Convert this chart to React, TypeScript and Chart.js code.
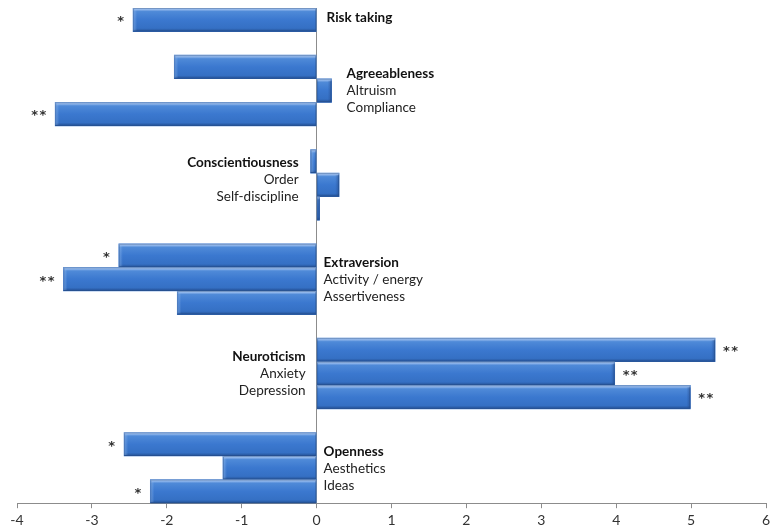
import React, { useEffect, useRef } from "react";
import { Chart, registerables } from "chart.js";

Chart.register(...registerables);

// ---- data ----
const categories: string[] = [
  "Risk taking", "",
  "Agreeableness", "Altruism", "Compliance", "",
  "Conscientiousness", "Order", "Self-discipline", "",
  "Extraversion", "Activity / energy", "Assertiveness", "",
  "Neuroticism", "Anxiety", "Depression", "",
  "Openness", "Aesthetics", "Ideas",
];

const values: (number | null)[] = [
  -2.45, null,
  -1.9, 0.2, -3.49, null,
  -0.08, 0.3, 0.04, null,
  -2.64, -3.38, -1.86, null,
  5.32, 3.98, 4.99, null,
  -2.57, -1.25, -2.22,
];

const significance: string[] = [
  "*", "",
  "", "", "**", "",
  "", "", "", "",
  "*", "**", "", "",
  "**", "**", "**", "",
  "*", "", "*",
];

const xTickValues: number[] = [-4, -3, -2, -1, 0, 1, 2, 3, 4, 5, 6];

// ---- label layout (position / style only) ----
type GroupLayout = { rows: number[]; side: "left" | "right"; dx: number; dy: number };
const groupLayout: GroupLayout[] = [
  { rows: [0], side: "right", dx: 10, dy: -2 },
  { rows: [2, 3, 4], side: "right", dx: 30, dy: 0 },
  { rows: [6, 7, 8], side: "left", dx: -18, dy: -5 },
  { rows: [10, 11, 12], side: "right", dx: 7, dy: 0 },
  { rows: [14, 15, 16], side: "left", dx: -11, dy: 0 },
  { rows: [18, 19, 20], side: "right", dx: 7, dy: 1 },
];

const FONT = "Lato, 'Open Sans', sans-serif";

const bevelPlugin = {
  id: "bevelBars",
  afterDatasetsDraw(chart: any) {
    const ctx = chart.ctx as CanvasRenderingContext2D;
    const meta = chart.getDatasetMeta(0);
    ctx.save();
    meta.data.forEach((el: any, i: number) => {
      const v = values[i];
      if (v === null || v === undefined) return;
      const p = el.getProps(["x", "y", "base", "height"], true);
      const left = Math.min(p.x, p.base);
      const right = Math.max(p.x, p.base);
      const top = p.y - p.height / 2;
      const h = p.height;
      const w = right - left;
      const g = ctx.createLinearGradient(0, top, 0, top + h);
      g.addColorStop(0, "#b4d0f4");
      g.addColorStop(0.07, "#8db4ea");
      g.addColorStop(0.15, "#4f8ad8");
      g.addColorStop(0.5, "#3b78cf");
      g.addColorStop(0.86, "#3570c4");
      g.addColorStop(1, "#234f92");
      ctx.fillStyle = g;
      ctx.fillRect(left, top, w, h);
      // end bevel
      const bw = Math.min(4, w);
      const endX = v >= 0 ? right - bw : left;
      const eg = ctx.createLinearGradient(endX, 0, endX + bw, 0);
      if (v >= 0) {
        eg.addColorStop(0, "rgba(40,80,150,0.0)");
        eg.addColorStop(1, "rgba(30,65,125,0.55)");
      } else {
        eg.addColorStop(0, "rgba(150,190,240,0.55)");
        eg.addColorStop(1, "rgba(150,190,240,0.0)");
      }
      ctx.fillStyle = eg;
      ctx.fillRect(endX, top + 2, bw, h - 3);
      ctx.strokeStyle = "rgba(40,75,130,0.4)";
      ctx.lineWidth = 1;
      ctx.strokeRect(left + 0.5, top + 0.5, Math.max(0, w - 1), h - 1);
    });
    // significance marks
    ctx.font = `bold 13px 'DejaVu Sans', sans-serif`;
    ctx.fillStyle = "#333";
    ctx.textBaseline = "middle";
    meta.data.forEach((el: any, i: number) => {
      const s = significance[i];
      const v = values[i];
      if (!s || v === null) return;
      const p = el.getProps(["x", "y"], true);
      const txt = s.split("").join("\u200A");
      if (v >= 0) {
        ctx.textAlign = "left";
        ctx.fillText(txt, p.x + 8, p.y + 2);
      } else {
        ctx.textAlign = "right";
        ctx.fillText(txt, p.x - 9, p.y + 2);
      }
    });
    // category labels
    const xs = chart.scales.x;
    const ys = chart.scales.y;
    const zero = xs.getPixelForValue(0);
    groupLayout.forEach((g) => {
      const midIdx = Math.floor(g.rows.length / 2);
      const midY = ys.getPixelForValue(g.rows[midIdx]);
      g.rows.forEach((r, j) => {
        const bold = j === 0;
        ctx.font = `${bold ? "bold " : ""}13.5px ${FONT}`;
        ctx.fillStyle = bold ? "#111" : "#222";
        ctx.textAlign = g.side === "right" ? "left" : "right";
        ctx.fillText(categories[r], zero + g.dx, midY + (j - midIdx) * 17 + g.dy);
      });
    });
    ctx.restore();
  },
};

export default function App() {
  const ref = useRef<HTMLCanvasElement | null>(null);
  useEffect(() => {
    if (!ref.current) return;
    const chart = new Chart(ref.current, {
      type: "bar",
      data: {
        labels: categories,
        datasets: [
          {
            data: values as any,
            backgroundColor: "#3b78cf",
            borderWidth: 0,
            barPercentage: 1,
            categoryPercentage: 1,
          },
        ],
      },
      options: {
        indexAxis: "y",
        responsive: false,
        maintainAspectRatio: false,
        animation: false,
        layout: { padding: { left: 17, right: 4, top: 8, bottom: -4 } },
        plugins: { legend: { display: false }, tooltip: { enabled: false } },
        scales: {
          x: {
            type: "linear",
            min: xTickValues[0],
            max: xTickValues[xTickValues.length - 1],
            afterBuildTicks: (axis: any) => {
              axis.ticks = xTickValues.map((v) => ({ value: v }));
            },
            afterFit: (axis: any) => {
              axis.paddingLeft = 0;
              axis.paddingRight = 0;
            },
            grid: {
              color: (c: any) => (c.tick && c.tick.value === 0 ? "#8c8c8c" : "rgba(0,0,0,0)"),
              tickColor: "#8c8c8c",
              tickLength: 5,
              lineWidth: 1,
            },
            border: { display: true, color: "#8c8c8c" },
            ticks: {
              color: "#333",
              padding: 4,
              maxRotation: 0,
              font: { family: FONT, size: 14 },
            },
          },
          y: {
            type: "category",
            display: false,
          },
        },
      },
      plugins: [bevelPlugin],
    });
    return () => chart.destroy();
  }, []);
  return (
    <div style={{ position: "absolute", left: 0, top: 0, width: 770, height: 529, background: "#fff" }}>
      <canvas ref={ref} width={770} height={529} />
    </div>
  );
}
